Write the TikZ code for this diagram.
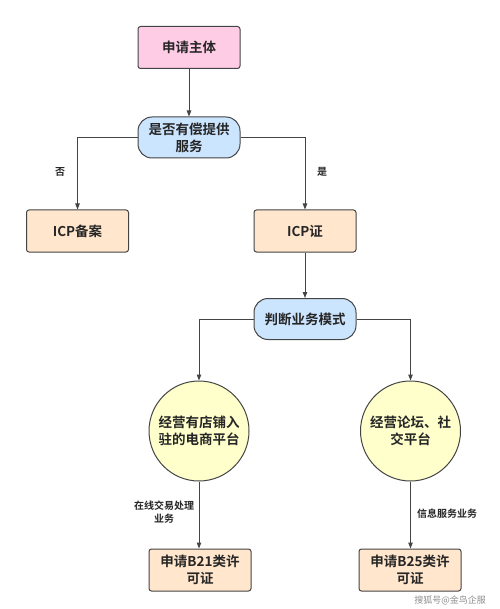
\documentclass[tikz,border=0pt]{standalone}
\usepackage{fontspec}
\newfontfamily\cjk{Noto Sans CJK SC}[BoldFont={Noto Sans CJK SC Bold}]
\usetikzlibrary{arrows.meta}
\definecolor{edge}{HTML}{444444}
\definecolor{pinkf}{HTML}{FFCCE6}
\definecolor{bluef}{HTML}{CCE5FF}
\definecolor{peachf}{HTML}{FFE6CC}
\definecolor{yellowf}{HTML}{FFFFCC}
\tikzset{
  base/.style={draw=edge, line width=1pt, font=\cjk\bfseries\fontsize{13.5}{17}\selectfont, text=black!85, align=center, inner sep=0pt},
  boxr/.style={base, rectangle, rounded corners=2.5pt, minimum width=102pt, minimum height=42pt},
  stad/.style={base, rectangle, rounded corners=14pt, minimum width=102pt, minimum height=41pt, fill=bluef},
  circ/.style={base, circle, minimum size=100pt, fill=yellowf},
  conn/.style={draw=edge, line width=1pt, -{Triangle[length=6pt,width=4.5pt]}},
  lbl/.style={font=\cjk\bfseries\fontsize{10}{13}\selectfont, text=black!85, align=center}
}
\begin{document}
\begin{tikzpicture}[x=1pt,y=-1pt]
\useasboundingbox (0,0) rectangle (499,609);
\node[boxr, fill=pinkf] (a) at (189,47.5) {申请主体};
\node[stad] (b) at (189,137.5) {是否有偿提供\\服务};
\node[boxr, fill=peachf] (c) at (77.5,231) {ICP备案};
\node[boxr, fill=peachf] (d) at (305,231) {ICP证};
\node[stad] (e) at (305,319) {判断业务模式};
\node[circ] (f) at (199,431) {经营有店铺入\\驻的电商平台};
\node[circ] (g) at (410.5,431) {经营论坛、社\\交平台};
\node[boxr, fill=peachf] (h) at (200,570) {申请B21类许\\可证};
\node[boxr, fill=peachf] (i) at (410,570) {申请B25类许\\可证};
\draw[conn] (a) -- (b);
\draw[conn] (b.west) -| (c.north);
\draw[conn] (b.east) -| (d.north);
\draw[conn] (d) -- (e);
\draw[conn] (e.west) -| (f.north);
\draw[conn] (e.east) -| (g.north);
\draw[conn] (f.south) -- (f.south |- h.north);
\draw[conn] (g.south) -- (g.south |- i.north);
\node[lbl] (l1) at (60,172) {否};
\node[lbl] (l2) at (322,172) {是};
\node[lbl] (l3) at (164,512) {在线交易处理\\业务};
\node[lbl] (l4) at (447,514) {信息服务业务};
\node[font=\cjk\fontsize{9}{10}\selectfont, text=black!45] (wm) at (450,600) {搜狐号@金鸟企服};
\end{tikzpicture}
\end{document}
